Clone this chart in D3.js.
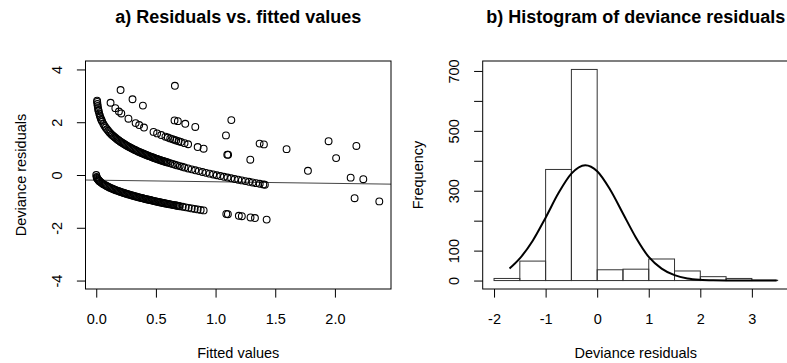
<!DOCTYPE html>
<html>
<head>
<meta charset="utf-8">
<script src="https://cdn.jsdelivr.net/npm/d3@7"></script>
<style>
  body { margin: 0; background: #fff; }
  svg { display: block; font-family: "Liberation Sans", Arial, Helvetica, sans-serif; }
</style>
</head>
<body>
<svg id="chart" width="787" height="363"></svg>
<script>
// ---- panel a: residuals vs fitted ----
// lower band (zero counts)
const zeroFitted = [0, 0.003, 0.006, 0.01, 0.015, 0.02, 0.025, 0.03, 0.04, 0.05, 0.06, 0.07, 0.08, 0.09,
  0.10, 0.11, 0.12, 0.13, 0.14, 0.15, 0.16, 0.17, 0.18, 0.19, 0.20, 0.21, 0.22, 0.23, 0.24, 0.25, 0.26, 0.27,
  0.28, 0.29, 0.30, 0.31, 0.32, 0.33, 0.34, 0.35, 0.36, 0.37, 0.38, 0.39, 0.40, 0.41, 0.42, 0.43, 0.44, 0.45,
  0.46, 0.47, 0.48, 0.49, 0.50, 0.51, 0.52, 0.53, 0.54, 0.55, 0.56, 0.57, 0.58, 0.59, 0.60, 0.61, 0.62, 0.63,
  0.64, 0.65, 0.66, 0.67, 0.68, 0.69, 0.70, 0.725, 0.75, 0.775, 0.80, 0.825, 0.85, 0.875, 0.90,
  1.09, 1.103, 1.195, 1.22, 1.293, 1.33, 1.428];
const zeroResid = [0, -0.077, -0.110, -0.141, -0.173, -0.200, -0.224, -0.245, -0.283, -0.316, -0.346, -0.374,
  -0.400, -0.424, -0.447, -0.469, -0.490, -0.510, -0.529, -0.548, -0.566, -0.583, -0.600, -0.616, -0.632,
  -0.648, -0.663, -0.678, -0.693, -0.707, -0.721, -0.735, -0.748, -0.762, -0.775, -0.787, -0.800, -0.812,
  -0.825, -0.837, -0.849, -0.860, -0.872, -0.883, -0.894, -0.906, -0.917, -0.927, -0.938, -0.949, -0.959,
  -0.970, -0.980, -0.990, -1.000, -1.010, -1.020, -1.030, -1.039, -1.049, -1.058, -1.068, -1.077, -1.086,
  -1.095, -1.105, -1.114, -1.122, -1.131, -1.140, -1.149, -1.158, -1.166, -1.175, -1.183, -1.204, -1.225,
  -1.245, -1.265, -1.285, -1.304, -1.323, -1.342,
  -1.476, -1.485, -1.546, -1.562, -1.608, -1.631, -1.690];

// upper dense band
const oneFitted = [0.007, 0.008, 0.01, 0.012, 0.015, 0.018, 0.02, 0.025, 0.03, 0.035, 0.04, 0.045, 0.05,
  0.06, 0.07, 0.08, 0.09, 0.10, 0.11, 0.12, 0.13, 0.14, 0.15, 0.16, 0.17, 0.18, 0.19, 0.20, 0.21, 0.22, 0.23,
  0.24, 0.25, 0.26, 0.27, 0.28, 0.29, 0.30, 0.31, 0.32, 0.33, 0.34, 0.35, 0.36, 0.37, 0.38, 0.39, 0.40, 0.41,
  0.42, 0.43, 0.44, 0.45, 0.46, 0.47, 0.48, 0.49, 0.50, 0.51, 0.52, 0.53, 0.54, 0.55, 0.56, 0.57, 0.58, 0.59,
  0.60, 0.62, 0.64, 0.66, 0.68, 0.70, 0.72, 0.74, 0.77, 0.80, 0.83, 0.86, 0.89, 0.92, 0.95, 0.98, 1.01, 1.04,
  1.07, 1.10, 1.13, 1.16, 1.19, 1.22, 1.25, 1.28, 1.31, 1.34, 1.37, 1.40, 1.413];
const oneResid = [2.817, 2.770, 2.689, 2.621, 2.536, 2.464, 2.422, 2.330, 2.253, 2.185, 2.126, 2.072, 2.023,
  1.936, 1.860, 1.792, 1.731, 1.675, 1.623, 1.575, 1.530, 1.487, 1.447, 1.409, 1.373, 1.338, 1.305, 1.272,
  1.242, 1.212, 1.183, 1.155, 1.128, 1.102, 1.076, 1.052, 1.028, 1.004, 0.981, 0.958, 0.937, 0.915, 0.894,
  0.874, 0.853, 0.834, 0.815, 0.795, 0.777, 0.759, 0.740, 0.722, 0.706, 0.688, 0.671, 0.654, 0.637, 0.621,
  0.605, 0.590, 0.574, 0.559, 0.544, 0.529, 0.514, 0.500, 0.486, 0.471, 0.443, 0.415, 0.389, 0.363, 0.337,
  0.312, 0.287, 0.249, 0.215, 0.179, 0.147, 0.114, 0.082, 0.051, 0.020, -0.010, -0.040, -0.068, -0.097,
  -0.125, -0.152, -0.179, -0.205, -0.232, -0.257, -0.283, -0.308, -0.332, -0.356, -0.367];

// sparser second band
const twoFitted = [0.12, 0.16, 0.19, 0.21, 0.27, 0.33, 0.36, 0.40, 0.48, 0.51, 0.545, 0.58, 0.60, 0.62,
  0.64, 0.655, 0.67, 0.69, 0.71, 0.74, 0.77, 0.85, 0.90, 1.098, 1.105, 1.291];
const twoResid = [2.737, 2.534, 2.407, 2.332, 2.133, 1.967, 1.892, 1.799, 1.633, 1.577, 1.513, 1.453, 1.420,
  1.387, 1.356, 1.332, 1.309, 1.279, 1.250, 1.207, 1.165, 1.059, 0.997, 0.772, 0.765, 0.58];

// remaining scattered points
const otherFitted = [0.204, 0.304, 0.391, 0.659, 0.656, 0.684, 0.746, 0.83, 1.132, 1.087, 1.369, 1.405,
  1.595, 1.947, 2.18, 2.01, 1.774, 2.132, 2.238, 2.165, 2.372];
const otherResid = [3.22, 2.87, 2.63, 3.38, 2.07, 2.04, 1.94, 1.82, 2.08, 1.50, 1.19, 1.16,
  0.98, 1.28, 1.10, 0.64, 0.16, -0.10, -0.16, -0.88, -1.00];

const fitIntercept = -0.196;
const fitSlope = -0.061;

const xTicksA = [0, 0.5, 1, 1.5, 2];
const yTicksA = [-4, -2, 0, 2, 4];

// ---- panel b: histogram ----
const binEdges = [-2, -1.5, -1, -0.5, 0, 0.5, 1, 1.5, 2, 2.5, 3, 3.5];
const binCounts = [7, 65, 371, 705, 36, 38, 72, 32, 13, 7, 1];

// normal curve
const curveX = [-1.7, -1.5, -1.25, -1.0, -0.75, -0.5, -0.23, 0, 0.25, 0.5, 0.75, 1.0, 1.25, 1.5, 1.75,
  2.0, 2.25, 2.5, 3.0, 3.48];
const curveY = [40, 74, 133, 210, 292, 357, 385, 365, 304, 224, 144, 79, 40, 18, 7, 2.4, 0.7, 0.2, 0, 0];

const xTicksB = [-2, -1, 0, 1, 2, 3];
const yTicksB = [0, 100, 200, 300, 400, 500, 600, 700];
const yLabelsB = [0, 100, 300, 500, 700];

const svg = d3.select("#chart");
const plotTop = 61, plotBottom = 289;
const tick = 8.6;
const fontSize = 14.5;

// R style labels use a plain hyphen for negatives
const fmtA = d => d3.format(".1f")(d).replace("\u2212", "-");
const fmtInt = d => String(d);

function panel(xs, title) {
  const [x0, x1] = xs.range();
  svg.append("text")
    .attr("x", (x0 + x1) / 2).attr("y", 23)
    .attr("text-anchor", "middle")
    .style("font-size", "18px").style("font-weight", "bold")
    .text(title);
  svg.append("rect")
    .attr("x", x0).attr("y", plotTop)
    .attr("width", x1 - x0).attr("height", plotBottom - plotTop)
    .attr("fill", "none").attr("stroke", "#000");
}

function axes(xs, ys, xt, yt, xfmt, ylabels, xtitle, ytitle) {
  const [x0, x1] = xs.range();
  const gx = svg.append("g").attr("transform", `translate(0,${plotBottom})`)
    .call(d3.axisBottom(xs).tickValues(xt).tickSize(tick).tickFormat(xfmt));
  gx.select(".domain").remove();
  gx.selectAll("line").attr("stroke", "#000");
  gx.selectAll("text").attr("y", 34.5).attr("dy", 0)
    .style("font-size", fontSize + "px").attr("fill", "#000");

  const gy = svg.append("g").attr("transform", `translate(${x0},0)`)
    .call(d3.axisLeft(ys).tickValues(yt).tickSize(tick)
      .tickFormat(d => ylabels.includes(d) ? String(d) : ""));
  gy.select(".domain").remove();
  gy.selectAll("line").attr("stroke", "#000");
  gy.selectAll("text")
    .attr("transform", "rotate(-90)")
    .attr("x", 0).attr("y", -23.5).attr("dy", 0)
    .attr("text-anchor", "middle")
    .style("font-size", fontSize + "px").attr("fill", "#000");

  svg.append("text")
    .attr("x", (x0 + x1) / 2).attr("y", 358)
    .attr("text-anchor", "middle")
    .style("font-size", fontSize + "px")
    .text(xtitle);
  svg.append("text")
    .attr("transform", `translate(${x0 - 60},${(plotTop + plotBottom) / 2}) rotate(-90)`)
    .attr("text-anchor", "middle")
    .style("font-size", fontSize + "px")
    .text(ytitle);
}

// ---------------- panel a ----------------
const xA = d3.scaleLinear().domain([-0.09, 2.47]).range([85.5, 391]);
const yA = d3.scaleLinear().domain([-4.32, 4.32]).range([plotBottom, plotTop]);

svg.append("clipPath").attr("id", "clipA")
  .append("rect").attr("x", 85.5).attr("y", plotTop).attr("width", 391 - 85.5).attr("height", plotBottom - plotTop);

const gA = svg.append("g").attr("clip-path", "url(#clipA)");

// fitted line across the plot
const dom = xA.domain();
gA.append("line")
  .attr("x1", xA(dom[0])).attr("y1", yA(fitIntercept + fitSlope * dom[0]))
  .attr("x2", xA(dom[1])).attr("y2", yA(fitIntercept + fitSlope * dom[1]))
  .attr("stroke", "#444").attr("stroke-width", 1);

const groups = [
  [zeroFitted, zeroResid],
  [oneFitted, oneResid],
  [twoFitted, twoResid],
  [otherFitted, otherResid]
];
groups.forEach(([fx, ry]) => {
  gA.selectAll(null)
    .data(d3.zip(fx, ry))
    .enter()
    .append("circle")
    .attr("cx", d => xA(d[0]))
    .attr("cy", d => yA(d[1]))
    .attr("r", 3.4)
    .attr("fill", "none")
    .attr("stroke", "#000")
    .attr("stroke-width", 1.1);
});

panel(xA, "a) Residuals vs. fitted values");
axes(xA, yA, xTicksA, yTicksA, fmtA, yTicksA, "Fitted values", "Deviance residuals");

// ---------------- panel b ----------------
const xB = d3.scaleLinear().domain([-2.22, 3.72]).range([482.7, 789]);
const yB = d3.scaleLinear().domain([-28.2, 733.2]).range([plotBottom, plotTop]);

const bins = binCounts.map((c, i) => ({ x0: binEdges[i], x1: binEdges[i + 1], n: c }));
svg.append("g")
  .selectAll("rect")
  .data(bins)
  .enter()
  .append("rect")
  .attr("x", d => xB(d.x0))
  .attr("y", d => yB(d.n))
  .attr("width", d => xB(d.x1) - xB(d.x0))
  .attr("height", d => yB(0) - yB(d.n))
  .attr("fill", "none")
  .attr("stroke", "#333")
  .attr("stroke-width", 1);

const line = d3.line()
  .x(d => xB(d[0]))
  .y(d => yB(d[1]))
  .curve(d3.curveMonotoneX);
svg.append("path")
  .datum(d3.zip(curveX, curveY))
  .attr("d", line)
  .attr("fill", "none")
  .attr("stroke", "#000")
  .attr("stroke-width", 2);

panel(xB, "b) Histogram of deviance residuals");
axes(xB, yB, xTicksB, yTicksB, fmtInt, yLabelsB, "Deviance residuals", "Frequency");
</script>
</body>
</html>
